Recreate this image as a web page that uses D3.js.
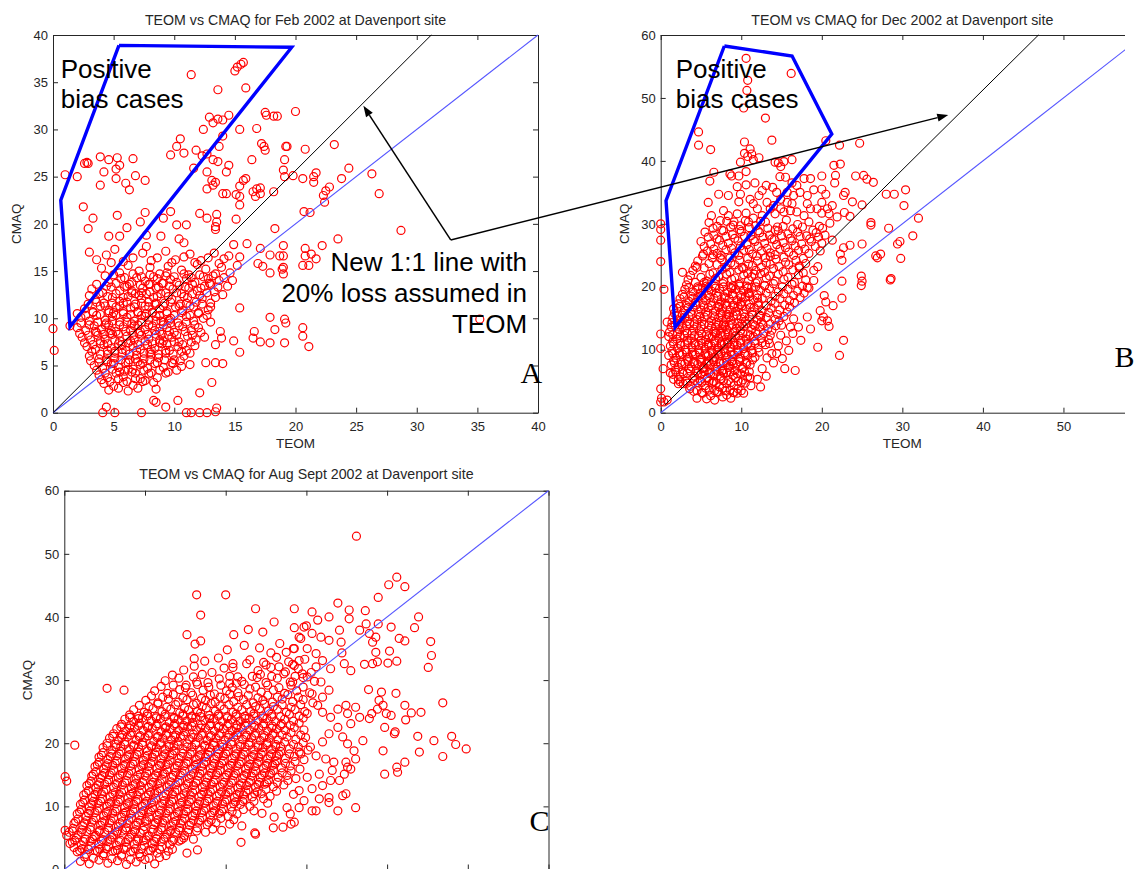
<!DOCTYPE html>
<html>
<head>
<meta charset="utf-8">
<script src="https://cdn.jsdelivr.net/npm/d3@7"></script>
<style>
  body { margin: 0; background: #fff; }
  svg { display: block; }
  text { font-family: "Liberation Sans", Arial, Helvetica, sans-serif; }
</style>
</head>
<body>
<svg id="fig" width="1137" height="869"></svg>
<script>
// ---------------- data (TEOM, CMAQ) ----------------

// Feb 2002: scattered observations
const febSparse = [
[15.0,36.2],[15.2,36.6],[15.5,36.9],[15.7,37.1],[11.4,35.8],[13.6,34.2],[15.9,34.4],
[17.5,31.8],[17.6,31.5],[18.2,31.4],[18.5,31.4],[20.0,31.9],
[12.9,31.3],[13.2,30.7],[13.6,31.1],[14.0,31.0],[14.5,31.5],
[12.4,30.0],[14.0,29.3],[15.4,30.0],[16.8,30.1],
[10.5,29.0],[10.2,28.2],[9.7,27.3],[10.8,27.5],[11.8,27.8],[12.3,27.2],[12.7,27.4],[13.2,26.8],[13.6,26.6],[13.7,28.2],
[14.5,26.2],[14.3,25.5],[12.7,25.5],[11.6,25.9],
[17.2,28.5],[17.4,28.2],[17.5,27.8],[19.3,28.2],[19.1,26.8],[16.4,26.8],
[13.1,24.6],[13.4,24.4],[13.2,24.1],[12.7,23.7],[14.0,23.2],[14.3,23.2],[15.1,23.1],[15.4,22.9],[15.4,24.0],[15.7,24.6],[15.9,24.8],[15.4,22.0],[15.1,20.5],
[16.5,23.4],[16.8,23.7],[17.1,23.8],[16.7,22.9],[17.1,23.2],[18.2,23.4],
[19.0,25.7],[19.1,25.0],
[12.7,20.6],[13.5,21.0],[13.5,20.2],[12.1,21.1],[9.7,21.3],[9.1,20.6],[10.2,19.9],[11.0,19.9],[13.4,19.7],
[3.9,27.1],[4.6,26.8],[5.3,27.0],[5.5,26.2],[5.2,25.8],[6.6,26.9],[2.8,26.5],[2.9,26.4],[2.6,26.4],[4.2,25.5],[3.9,24.1],[5.2,24.8],[6.0,24.3],[6.3,23.6],[6.8,25.1],[7.6,24.6],[1.0,25.2],[2.0,25.0],[2.5,21.8],[3.3,20.6],[5.3,20.9],[7.6,21.2],[7.2,20.2],[6.1,19.6],[2.9,19.5],
[4.6,18.7],[5.5,18.7],[7.7,18.8],[8.9,18.7],[10.4,18.4],[10.8,18.0],[13.4,19.4],
[14.9,17.8],[16.0,17.9],[17.1,17.4],[18.3,19.5],[19.0,17.7],[17.9,16.7],[18.7,16.6],[16.9,15.8],[17.3,15.5],[17.9,14.8],[18.9,15.2],[19.0,14.7],
[15.4,11.1],[17.9,10.1],[19.1,9.9],[19.2,9.5],[18.3,8.8],[16.6,8.6],[16.5,7.9],[17.1,7.5],[17.9,7.4],[19.1,7.4],[14.9,7.6],[15.4,6.4],[13.8,8.6],[13.9,7.9],[13.4,7.2],[13.4,5.3],[14.0,5.2],[12.6,5.3],[13.1,3.2],[12.1,2.1],
[13.5,0.5],[13.4,0.1],[12.7,0.0],[12.1,0.0],[11.4,0.0],[11.0,0.0],[10.3,1.3],[9.3,0.6],[8.3,1.3],[8.5,1.1],[8.5,2.5],[7.3,0.0],[5.1,0.0],[4.4,0.6],[4.1,0.0],[0.0,8.9],[0.1,6.6],[1.4,9.2],
[20.8,17.4],[20.8,16.6],[21.3,16.8],[21.7,16.3],[20.6,15.6],[21.1,15.6],[19.0,16.6],[19.0,15.4],[20.6,9.0],[20.6,8.1],[21.1,7.0],[35.2,9.9],[22.2,17.7],[23.5,18.4],[28.7,19.3],
[19.2,28.2],[20.8,27.9],[23.2,28.4],[24.4,25.9],[26.3,25.3],[26.9,23.2],[19.8,25.1],[20.6,24.8],[21.5,25.0],[21.7,25.4],[21.5,24.4],[23.8,24.8],[22.8,23.9],[22.5,23.5],[22.3,23.0],[22.4,22.3],[20.7,21.3],[21.2,21.2]
];

// Feb 2002: the dense body of observations
const febDense = [
[3.0,17.0],[4.4,16.7],[5.1,17.3],[5.8,16.0],[7.4,16.9],[7.7,17.6],[8.6,16.4],[9.3,17.1],[10.1,16.2],[11.3,16.8],[12.2,16.1],[13.3,16.9],[14.1,16.3],[15.4,16.5],
[4.0,15.3],[5.5,14.8],[6.2,15.6],[7.1,15.0],[8.0,15.4],[8.8,14.7],[9.5,15.5],[10.6,15.1],[11.2,14.6],[11.9,15.7],[12.6,15.2],[13.2,14.5],[13.9,15.4],[14.6,14.8],[15.2,15.6],
[4.6,13.8],[5.6,14.2],[6.3,13.6],[6.9,14.3],[7.6,13.9],[8.3,14.4],[9.0,13.7],[9.7,14.1],[10.4,13.5],[11.0,14.2],[11.7,13.8],[12.4,14.4],[13.0,13.6],[13.7,14.0],[14.4,13.4],
[3.2,13.1],[4.1,12.7],[4.8,13.3],[5.5,12.9],[6.1,13.4],[6.8,12.6],[7.4,13.2],[8.0,12.8],[8.7,13.3],[9.3,12.7],[9.9,13.1],[10.6,12.6],[11.2,13.2],[11.9,12.9],[12.5,13.4],[13.3,12.8],[14.0,12.5],
[3.5,12.0],[4.2,11.6],[4.9,12.2],[5.5,11.8],[6.2,12.3],[6.8,11.5],[7.3,12.1],[7.9,11.7],[8.6,12.3],[9.2,11.6],[9.8,12.0],[10.5,11.5],[11.1,12.2],[11.8,11.7],[12.3,12.1],[13.0,11.6],
[2.6,11.0],[3.3,10.6],[3.9,11.3],[4.6,10.8],[5.2,11.2],[5.8,10.5],[6.4,11.1],[7.0,10.7],[7.6,11.3],[8.2,10.6],[8.8,11.0],[9.4,10.5],[10.1,11.2],[10.7,10.8],[11.3,11.3],[12.0,10.6],[12.8,10.9],
[2.3,10.1],[3.0,9.7],[3.6,10.3],[4.3,9.8],[4.9,10.2],[5.5,9.6],[6.1,10.1],[6.7,9.7],[7.3,10.3],[7.9,9.8],[8.5,10.2],[9.1,9.6],[9.7,10.0],[10.3,9.5],[11.0,10.2],[11.6,9.7],[12.4,10.0],[13.0,9.6],
[2.0,9.0],[2.7,8.7],[3.4,9.2],[4.0,8.8],[4.6,9.3],[5.2,8.6],[5.8,9.1],[6.4,8.7],[7.0,9.3],[7.6,8.8],[8.2,9.2],[8.8,8.6],[9.4,9.0],[10.0,8.5],[10.7,9.1],[11.4,8.7],[12.0,9.0],
[2.4,8.0],[3.1,7.7],[3.7,8.2],[4.3,7.8],[4.9,8.3],[5.5,7.6],[6.1,8.1],[6.7,7.7],[7.3,8.2],[7.9,7.8],[8.5,8.3],[9.1,7.6],[9.8,8.0],[10.4,7.5],[11.1,8.1],[11.8,7.7],[12.5,8.0],
[2.8,7.0],[3.5,6.7],[4.2,7.2],[4.8,6.8],[5.4,7.3],[6.0,6.6],[6.6,7.1],[7.2,6.7],[7.8,7.2],[8.4,6.8],[9.0,7.3],[9.6,6.6],[10.3,7.0],[11.0,6.6],[11.7,7.1],
[3.0,6.0],[3.8,5.7],[4.5,6.2],[5.1,5.8],[5.7,6.3],[6.3,5.6],[6.9,6.1],[7.5,5.7],[8.1,6.2],[8.7,5.8],[9.3,6.3],[10.0,5.6],[10.8,6.0],
[3.4,5.0],[4.1,4.7],[4.8,5.2],[5.4,4.8],[6.0,5.3],[6.6,4.6],[7.2,5.1],[7.8,4.7],[8.4,5.2],[9.1,4.8],[9.8,5.3],[10.6,4.9],[11.3,5.1],
[3.8,4.0],[4.5,3.7],[5.2,4.2],[5.8,3.8],[6.5,4.3],[7.2,3.6],[7.9,4.1],[8.6,3.7],[9.3,4.2],
[4.2,3.1],[5.0,2.8],[5.8,3.2],[6.6,2.9],[7.4,3.3],
[3.6,8.5],[4.4,9.5],[5.0,10.6],[5.8,11.6],[6.5,9.4],[7.1,8.4],[7.7,10.5],[8.4,11.5],[8.9,9.7],[9.5,8.2],[6.2,7.4],[5.1,6.5],[4.5,5.4],[5.9,4.4],[7.0,5.4],[8.0,6.4],[8.8,7.4],[9.6,9.8],[3.9,7.3],[4.7,8.4],[7.3,12.7],[6.5,12.9],[8.0,13.6],[9.3,14.5]
];

// Feb 2002: further observations packed inside the dense body
const febDenseFill = [
[3.6,16.2],[4.8,15.9],[6.6,16.4],[8.1,16.1],[9.8,15.9],[10.8,16.5],[11.7,15.9],[12.8,16.4],[13.7,15.8],[14.5,16.6],
[4.3,14.5],[5.0,14.6],[5.9,14.3],[6.6,14.7],[7.3,14.4],[8.0,14.6],[8.6,14.2],[9.4,14.8],[10.0,14.4],[10.8,14.7],[11.4,14.3],[12.1,14.6],[12.8,14.2],[13.4,14.7],[14.1,14.3],[14.8,14.0],
[3.6,13.6],[4.4,13.4],[5.2,13.7],[5.9,13.3],[6.5,13.8],[7.2,13.5],[7.9,13.6],[8.5,13.2],[9.1,13.7],[9.6,13.4],[10.2,13.8],[10.9,13.3],[11.5,13.6],[12.2,13.2],[12.9,13.7],[13.6,13.3],
[3.0,12.4],[3.8,12.6],[4.5,12.3],[5.2,12.6],[5.8,12.2],[6.5,12.7],[7.1,12.4],[7.7,12.6],[8.3,12.2],[8.9,12.6],[9.5,12.3],[10.2,12.7],[10.8,12.3],[11.5,12.6],[12.1,12.4],[12.7,12.7],[13.4,12.2],
[2.9,11.5],[3.6,11.7],[4.3,11.3],[4.9,11.6],[5.5,11.3],[6.1,11.7],[6.7,11.2],[7.3,11.6],[7.9,11.2],[8.5,11.6],[9.1,11.3],[9.7,11.7],[10.4,11.3],[11.0,11.6],[11.6,11.2],[12.3,11.5],[13.0,11.2],
[2.0,10.5],[2.7,10.3],[3.3,10.7],[3.9,10.4],[4.6,10.6],[5.2,10.3],[5.8,10.7],[6.4,10.4],[7.0,10.6],[7.6,10.2],[8.2,10.6],[8.8,10.3],[9.4,10.7],[10.0,10.3],[10.6,10.6],[11.3,10.3],[12.0,10.5],[12.7,10.3],
[2.3,9.5],[3.0,9.3],[3.7,9.6],[4.3,9.3],[4.9,9.7],[5.5,9.3],[6.1,9.6],[6.7,9.2],[7.3,9.6],[7.9,9.3],[8.5,9.7],[9.1,9.3],[9.7,9.5],[10.4,9.2],[11.0,9.6],[11.7,9.3],
[2.2,8.4],[2.9,8.2],[3.5,8.6],[4.2,8.3],[4.8,8.7],[5.4,8.3],[6.0,8.6],[6.6,8.2],[7.2,8.6],[7.8,8.3],[8.4,8.7],[9.0,8.3],[9.6,8.6],[10.2,8.2],[10.9,8.6],[11.5,8.2],[12.2,8.5],
[2.6,7.4],[3.3,7.2],[3.9,7.6],[4.5,7.3],[5.1,7.7],[5.7,7.2],[6.4,7.6],[7.0,7.2],[7.6,7.6],[8.2,7.3],[8.8,7.7],[9.4,7.2],[10.0,7.5],[10.7,7.2],[11.4,7.5],
[3.2,6.5],[3.9,6.2],[4.5,6.6],[5.1,6.3],[5.7,6.7],[6.3,6.2],[6.9,6.6],[7.5,6.3],[8.1,6.7],[8.7,6.2],[9.3,6.6],[9.9,6.2],[10.6,6.5],[11.3,6.3],
[3.1,5.5],[3.8,5.3],[4.4,5.6],[5.0,5.2],[5.6,5.6],[6.2,5.3],[6.8,5.7],[7.4,5.2],[8.0,5.6],[8.6,5.3],[9.2,5.6],[9.9,5.2],[10.5,5.5],
[3.6,4.5],[4.3,4.2],[4.9,4.6],[5.5,4.3],[6.2,4.6],[6.8,4.2],[7.5,4.5],[8.1,4.2],[8.8,4.5],[9.5,4.3],[10.2,4.5],
[4.0,3.5],[4.7,3.3],[5.4,3.6],[6.1,3.3],[6.8,3.6],[7.6,3.4],[8.3,3.2],
[4.6,2.4],[5.4,2.6],[6.2,2.3],[7.0,2.6]
];

// Dec 2002: scattered observations
const decSparse = [
[10.6,56.3],[16.2,53.9],[10.8,52.8],[10.7,51.2],[10.3,48.4],[13.0,46.8],[4.7,44.6],[4.7,42.5],[6.2,41.8],[10.4,43.0],[11.1,41.9],[11.3,41.1],[10.4,41.2],[13.8,43.3],[16.3,40.2],[14.2,39.8],[14.6,39.7],[14.9,39.1],[15.3,39.9],[20.5,43.2],[22.2,42.5],[24.7,42.8],[9.9,39.8],[10.8,40.7],[11.5,40.2],[12.2,40.5],[6.6,38.2],[6.1,36.8],[8.6,37.9],[8.8,37.6],[9.7,37.6],[10.6,38.3],[10.6,36.2],[11.7,36.5],[7.2,34.7],[8.4,34.5],[9.7,33.5],[9.9,34.7],[9.5,35.9],[14.8,37.5],[15.5,37.4],[16.3,36.5],[16.9,36.1],[17.8,37.2],[18.6,37.2],[20.0,37.6],[21.5,39.3],[21.7,37.7],[22.3,39.5],[21.6,36.5],[24.2,37.6],[25.2,37.7],[25.6,37.1],[26.4,36.6],[28.0,34.7],[26.1,30.2],[25.0,33.0],[23.8,33.5],[22.7,34.5],[22.9,35.0],[20.5,34.7],[20.0,35.5],[19.0,35.4],[18.2,34.5],[17.3,35.0],[20.7,32.4],[21.3,32.9],[20.9,31.6],[20.0,31.7],[19.4,32.4],[20.0,33.4],[21.9,31.1],[22.8,31.8],[23.5,31.2],[18.2,33.2],[18.6,32.4],[17.8,31.3],[16.9,31.9],
[13.2,33.4],[14.0,32.9],[14.9,33.9],[15.7,33.4],[16.1,32.1],[15.3,31.9],[14.2,31.6],[13.6,32.4],[12.6,31.3],[15.7,35.0],[16.5,34.5],[16.3,33.2],[14.9,32.4],[11.1,33.9],[11.5,33.2],[12.0,32.4],[10.6,31.7],[12.2,34.5],[12.6,35.3],[13.1,36.1],[13.9,35.8],[14.4,35.0],[7.4,30.5],[8.4,31.3],[9.5,31.6],[9.1,30.3],[9.9,29.7],[10.9,30.3],[11.5,30.9],[12.4,30.4],[0.0,30.0],[5.9,33.4],[6.3,31.3],[7.8,32.1],
[29.0,34.7],[30.4,35.4],[30.2,32.9],[32.0,30.9],[28.3,29.3],[29.7,27.2],[31.3,28.1],[29.8,24.5],[28.6,21.3],[27.3,25.2],
[0.0,27.4],[0.0,24.0],[0.0,29.1],[0.4,19.6],[0.0,12.5],[0.0,10.2],[0.3,7.0],[0.0,3.8],[0.1,2.3],[0.0,1.7],[0.4,1.7],[0.8,2.0],[0.8,14.4],[1.6,16.5],[2.7,22.3],[4.5,23.1],[5.3,25.2],[6.5,25.1],[7.4,24.6],[5.4,20.7],[5.7,20.9],[5.9,19.9],
[25.0,26.8],[26.1,29.8],[29.4,26.8],[26.7,24.9],[26.9,24.6],[28.5,21.1],[24.9,21.7],[25.0,20.9],[24.9,20.2],[22.7,26.2],[23.5,26.6],[22.3,25.2],[22.5,24.2],[22.5,20.9],[22.5,18.2],[21.4,17.0],[20.3,18.6],[20.5,17.6],[19.8,16.2],[20.2,15.2],[20.0,14.6],[20.7,14.6],[20.9,13.7],[22.7,11.5],[22.2,9.1],[19.5,10.4],[18.2,15.2],[17.1,13.6],[18.6,13.3],[16.7,6.7],[15.4,7.0],[15.1,8.6],[14.4,9.4],[13.8,9.4],[12.4,4.1],[10.3,3.1],[9.5,3.1],[4.5,2.3],[1.6,5.3],[2.2,4.6],[1.2,6.3]
];

// Dec 2002: the dense body of observations
const decDense = [
[6.0,30.2],[7.0,29.6],[8.2,30.4],[9.0,29.8],[10.5,30.5],[11.8,29.7],[13.0,30.3],[14.5,29.5],[15.6,30.6],[17.0,29.9],[18.4,30.3],[19.7,29.6],[21.0,30.1],
[5.5,28.7],[6.6,28.2],[7.8,28.9],[8.9,28.3],[10.0,28.8],[11.2,28.1],[12.3,28.6],[13.5,28.2],[14.6,28.9],[15.8,28.4],[17.0,28.7],[18.1,28.1],[19.3,28.6],[20.4,28.2],
[5.0,27.2],[6.2,26.8],[7.3,27.4],[8.4,26.9],[9.6,27.3],[10.7,26.7],[11.7,27.2],[12.9,26.9],[14.1,27.5],[15.2,27.0],[16.3,27.3],[17.5,26.8],[18.7,27.2],[20.0,26.9],[21.3,27.4],
[5.8,25.7],[7.0,25.3],[8.1,25.9],[9.2,25.4],[10.3,25.8],[11.4,25.2],[12.5,25.7],[13.6,25.4],[14.8,26.0],[15.9,25.5],[17.1,25.8],[18.4,25.3],[19.8,25.7],
[4.6,24.1],[6.0,23.7],[7.6,24.3],[8.7,23.8],[9.8,24.2],[10.9,23.6],[12.0,24.1],[13.1,23.8],[14.3,24.4],[15.5,23.9],[16.8,24.2],[18.0,23.7],
[4.0,22.6],[6.5,22.2],[7.6,22.8],[8.6,22.3],[9.7,22.7],[10.8,22.1],[11.8,22.6],[12.9,22.3],[14.0,22.9],[15.2,22.4],[16.4,22.7],[17.7,22.2],[19.0,22.6],
[3.4,21.1],[4.3,20.7],[6.8,21.3],[7.8,20.8],[8.8,21.2],[9.8,20.6],[10.9,21.1],[12.0,20.8],[13.1,21.4],[14.2,20.9],[15.3,21.2],[16.6,20.7],[18.0,21.1],
[3.0,19.6],[4.0,19.2],[5.2,19.8],[6.3,19.3],[7.3,19.7],[8.3,19.1],[9.3,19.6],[10.3,19.3],[11.3,19.9],[12.4,19.4],[13.5,19.7],[14.6,19.2],[15.8,19.6],[17.0,19.3],[18.4,19.8],
[2.4,18.1],[3.5,17.7],[4.6,18.3],[5.6,17.8],[6.6,18.2],[7.5,17.6],[8.5,18.1],[9.5,17.8],[10.5,18.4],[11.5,17.9],[12.6,18.2],[13.7,17.7],[14.8,18.1],[16.0,17.8],[17.3,18.3],
[2.0,16.6],[3.0,16.2],[4.0,16.8],[5.0,16.3],[5.9,16.7],[6.8,16.1],[7.7,16.6],[8.6,16.3],[9.6,16.9],[10.6,16.4],[11.6,16.7],[12.6,16.2],[13.7,16.6],[14.8,16.3],[16.0,16.8],
[1.5,15.1],[2.5,14.7],[3.5,15.3],[4.5,14.8],[5.4,15.2],[6.3,14.6],[7.2,15.1],[8.1,14.8],[9.0,15.4],[10.0,14.9],[11.0,15.2],[12.0,14.7],[13.1,15.1],[14.2,14.8],[15.3,15.3],[16.5,14.9],
[1.3,13.6],[2.3,13.2],[3.2,13.8],[4.1,13.3],[5.0,13.7],[5.9,13.1],[6.8,13.6],[7.6,13.3],[8.5,13.9],[9.4,13.4],[10.3,13.7],[11.3,13.2],[12.3,13.6],[13.3,13.3],[14.3,13.8],
[1.0,12.1],[2.0,11.7],[2.9,12.3],[3.8,11.8],[4.7,12.2],[5.6,11.6],[6.4,12.1],[7.2,11.8],[8.0,12.4],[8.8,11.9],[9.7,12.2],[10.6,11.7],[11.5,12.1],[12.5,11.8],[13.6,12.3],
[1.2,10.6],[2.1,10.2],[3.0,10.8],[3.9,10.3],[4.7,10.7],[5.5,10.1],[6.3,10.6],[7.1,10.3],[7.9,10.9],[8.7,10.4],[9.5,10.7],[10.3,10.2],[11.2,10.6],[12.1,10.3],[13.0,10.8],
[1.0,9.1],[1.9,8.7],[2.7,9.3],[3.5,8.8],[4.3,9.2],[5.1,8.6],[5.9,9.1],[6.7,8.8],[7.5,9.4],[8.3,8.9],[9.1,9.2],[9.9,8.7],[10.8,9.1],[11.7,8.8],
[1.3,7.6],[2.2,7.2],[3.0,7.8],[3.8,7.3],[4.6,7.7],[5.4,7.1],[6.2,7.6],[7.0,7.3],[7.8,7.9],[8.6,7.4],[9.4,7.7],[10.2,7.2],[11.1,7.6],
[1.5,6.1],[2.4,5.7],[3.3,6.3],[4.2,5.8],[5.0,6.2],[5.8,5.6],[6.6,6.1],[7.4,5.8],[8.2,6.4],[9.0,5.9],[9.9,6.2],[10.8,5.7],
[2.8,4.6],[3.7,4.2],[4.6,4.8],[5.5,4.3],[6.4,4.7],[7.3,4.1],[8.2,4.6],[9.1,4.3],[10.0,4.8],
[5.2,3.1],[6.2,2.7],[7.2,3.3],[8.2,2.8],[9.1,3.2],
[6.5,5.0],[7.7,6.8],[8.8,8.1],[9.6,9.8],[7.0,9.9],[6.0,8.2],[5.3,7.2],[8.4,11.2],[9.2,12.9],[7.8,13.9],[10.1,14.1],[6.9,12.7],[8.2,15.6],[9.9,17.2],[11.0,18.9],[7.3,17.2],[12.9,20.2],[11.6,22.0],[13.6,24.8],[10.1,23.1],[9.0,20.2],
[13.5,11.0],[14.6,10.6],[15.6,11.4],[14.9,12.3],[16.4,12.6],[13.2,8.7],[14.0,7.9],[12.6,7.0],[13.1,5.8],[12.0,5.3],[11.2,4.3],[15.9,9.9],[17.4,11.5],[16.1,13.6],[15.0,13.9],
[18.2,19.9],[19.0,21.0],[19.5,23.2],[17.2,23.3]
];

// Dec 2002: further observations packed inside the dense body
const decDenseFill = [
[6.5,29.3],[7.6,29.0],[8.7,29.5],[9.8,29.1],[11.0,29.4],[12.1,28.9],[13.3,29.3],[14.2,29.0],[15.2,29.6],[16.4,29.2],[17.6,29.5],[18.9,29.0],[20.1,29.3],
[5.9,27.9],[7.0,27.6],[8.1,28.0],[9.2,27.7],[10.4,28.0],[11.5,27.5],[12.7,27.9],[13.8,27.6],[15.0,28.1],[16.1,27.7],[17.3,28.0],[18.5,27.6],[19.6,27.9],
[5.4,26.4],[6.6,26.0],[7.7,26.6],[8.8,26.1],[9.9,26.5],[11.0,25.9],[12.1,26.4],[13.2,26.1],[14.4,26.7],[15.5,26.2],[16.7,26.5],[17.9,26.0],[19.2,26.4],
[5.2,24.9],[6.4,24.6],[7.5,25.0],[8.6,24.6],[9.7,25.0],[10.8,24.5],[11.9,24.9],[13.0,24.6],[14.2,25.1],[15.3,24.7],[16.5,25.0],[17.7,24.5],
[4.3,23.3],[5.4,23.0],[7.0,23.5],[8.1,23.1],[9.2,23.5],[10.3,22.9],[11.4,23.4],[12.5,23.1],[13.6,23.6],[14.7,23.2],[15.9,23.5],[17.2,23.0],
[3.7,21.8],[5.0,21.5],[6.1,22.0],[7.2,21.6],[8.2,22.0],[9.2,21.4],[10.3,21.9],[11.3,21.6],[12.4,22.1],[13.5,21.7],[14.6,22.0],[15.8,21.5],[17.1,21.9],
[3.2,20.3],[4.6,20.0],[5.7,20.5],[6.7,20.1],[7.7,20.5],[8.7,19.9],[9.7,20.4],[10.7,20.1],[11.8,20.6],[12.9,20.2],[14.0,20.5],[15.1,20.0],[16.3,20.4],[17.6,20.1],
[2.7,18.8],[3.8,18.5],[4.9,19.0],[5.9,18.6],[6.9,19.0],[7.9,18.4],[8.9,18.9],[9.9,18.6],[10.9,19.1],[12.0,18.7],[13.1,19.0],[14.2,18.5],[15.3,18.9],[16.5,18.6],[17.8,19.0],
[2.2,17.3],[3.2,17.0],[4.3,17.5],[5.3,17.1],[6.2,17.5],[7.1,16.9],[8.0,17.4],[9.0,17.1],[10.0,17.6],[11.0,17.2],[12.1,17.5],[13.1,17.0],[14.2,17.4],[15.4,17.1],[16.6,17.5],
[1.7,15.8],[2.7,15.5],[3.7,16.0],[4.7,15.6],[5.6,16.0],[6.5,15.4],[7.4,15.9],[8.4,15.6],[9.3,16.1],[10.3,15.7],[11.3,16.0],[12.3,15.5],[13.4,15.9],[14.5,15.6],[15.7,16.0],
[1.4,14.3],[2.3,14.0],[3.3,14.5],[4.2,14.1],[5.1,14.5],[6.0,13.9],[6.9,14.4],[7.8,14.1],[8.7,14.7],[9.6,14.2],[10.5,14.5],[11.5,14.0],[12.5,14.4],[13.6,14.1],[14.7,14.6],
[1.1,12.8],[2.1,12.5],[3.0,13.0],[3.9,12.6],[4.8,13.0],[5.7,12.4],[6.6,12.9],[7.4,12.6],[8.2,13.2],[9.0,12.7],[9.9,13.0],[10.8,12.5],[11.8,12.9],[12.8,12.6],[13.8,13.1],
[1.5,11.3],[2.4,11.0],[3.3,11.5],[4.2,11.1],[5.0,11.5],[5.9,10.9],[6.7,11.4],[7.5,11.1],[8.3,11.6],[9.1,11.2],[9.9,11.5],[10.8,11.0],[11.7,11.4],[12.6,11.1],[13.4,11.6],
[1.4,9.8],[2.3,9.5],[3.1,10.0],[3.9,9.6],[4.7,10.0],[5.5,9.4],[6.3,9.9],[7.1,9.6],[7.9,10.2],[8.7,9.7],[9.5,10.0],[10.4,9.5],[11.3,9.9],[12.2,9.6],
[1.6,8.3],[2.5,8.0],[3.3,8.5],[4.1,8.1],[4.9,8.5],[5.7,7.9],[6.5,8.4],[7.3,8.1],[8.1,8.7],[8.9,8.2],[9.7,8.5],[10.6,8.0],[11.4,8.4],
[1.8,6.8],[2.7,6.5],[3.5,7.0],[4.4,6.6],[5.2,7.0],[6.0,6.4],[6.8,6.9],[7.6,6.6],[8.4,7.2],[9.2,6.7],[10.1,7.0],[11.0,6.5],
[2.2,5.3],[3.1,5.0],[4.0,5.5],[4.9,5.1],[5.8,5.5],[6.6,4.9],[7.5,5.4],[8.4,5.1],[9.3,5.6],[10.2,5.2],[11.1,5.5],
[3.6,3.8],[4.5,3.5],[5.6,3.9],[6.7,3.5],[7.7,3.9],[8.6,3.6],[9.6,3.8],
[5.7,2.2],[6.7,2.0],[7.7,2.5],[8.7,2.3]
];

// Dec 2002: the most crowded low-concentration core
const decCore = [
[4.1,3.4],[5.1,3.2],[6.0,3.6],[7.0,3.3],[8.0,3.5],[9.0,3.2],[10.0,3.5],
[2.4,4.9],[3.3,4.7],[4.2,5.1],[5.1,4.8],[6.0,5.0],[6.9,4.7],[7.8,5.1],[8.7,4.8],[9.6,5.0],[10.5,4.7],
[1.9,6.4],[2.8,6.2],[3.7,6.6],[4.6,6.3],[5.4,6.5],[6.2,6.2],[7.0,6.6],[7.8,6.3],[8.6,6.5],[9.5,6.2],[10.4,6.5],
[1.7,7.9],[2.6,7.7],[3.4,8.1],[4.2,7.8],[5.0,8.0],[5.8,7.7],[6.6,8.1],[7.4,7.8],[8.2,8.0],[9.0,7.7],[9.8,8.1],[10.7,7.8],
[1.5,9.4],[2.4,9.2],[3.2,9.6],[4.0,9.3],[4.8,9.5],[5.6,9.2],[6.4,9.6],[7.2,9.3],[8.0,9.5],[8.8,9.2],[9.6,9.6],[10.5,9.3],[11.4,9.5],
[1.6,10.9],[2.5,10.7],[3.4,11.1],[4.3,10.8],[5.1,11.0],[5.9,10.7],[6.7,11.1],[7.5,10.8],[8.3,11.0],[9.1,10.7],[9.9,11.1],[10.8,10.8],[11.7,11.0],
[1.5,12.4],[2.4,12.2],[3.3,12.6],[4.2,12.3],[5.1,12.5],[6.0,12.2],[6.8,12.6],[7.6,12.3],[8.4,12.5],[9.3,12.2],[10.2,12.6],[11.1,12.3],[12.0,12.5],
[1.8,13.9],[2.7,13.7],[3.6,14.1],[4.5,13.8],[5.4,14.0],[6.3,13.7],[7.2,14.1],[8.0,13.8],[8.9,14.0],[9.8,13.7],[10.7,14.1],[11.7,13.8],[12.7,14.0],
[2.0,15.4],[3.0,15.2],[3.9,15.6],[4.9,15.3],[5.8,15.5],[6.7,15.2],[7.6,15.6],[8.5,15.3],[9.5,15.5],[10.4,15.2],[11.4,15.6],[12.4,15.3],
[2.4,16.9],[3.4,16.7],[4.4,17.1],[5.4,16.8],[6.3,17.0],[7.2,16.7],[8.2,17.1],[9.1,16.8],[10.1,17.0],[11.1,16.7],[12.1,17.1],
[2.9,18.4],[4.0,18.2],[5.1,18.6],[6.1,18.3],[7.1,18.5],[8.0,18.2],[9.0,18.6],[10.0,18.3],[11.0,18.5],[12.0,18.2],
[3.5,19.9],[4.6,19.7],[5.7,20.1],[6.8,19.8],[7.8,20.0],[8.8,19.7],[9.8,20.1],[10.8,19.8],[11.8,20.0]
];

// Aug-Sept 2002: scattered observations
const augSparse = [
[16.4,43.5],[20.0,43.5],[16.9,40.3],[15.2,37.2],[16.2,35.7],[16.9,36.2],[21.0,37.2],[23.7,41.3],[24.6,37.6],[24.2,35.1],[25.6,34.3],[28.5,41.3],[28.5,38.3],[28.4,35.0],
[5.3,28.7],[7.4,28.4],[1.3,19.7],[0.1,14.7],[0.3,14.0],[16.1,33.4],[15.1,29.2],[16.4,29.7],[20.9,32.6],[22.6,32.6],[21.5,30.5],[20.5,29.5],[21.3,29.5],[23.9,30.4],[21.9,4.3],[23.6,5.8],[23.7,5.6],[25.9,6.6],[27.1,6.7],[28.1,7.2],[28.5,7.5],[0.1,6.2],[0.3,5.4],[0.7,4.1],
[36.2,52.8],[41.2,46.3],[40.2,45.1],[42.2,44.8],[38.9,43.1],[33.9,42.2],[35.3,41.1],[35.3,39.7],[37.3,41.0],[43.9,40.0],[43.4,38.3],[40.5,38.4],[41.5,36.6],[42.2,36.2],[45.4,36.1],[45.5,33.9],[45.1,32.0],[40.3,34.6],[41.2,33.0],[40.1,32.7],
[38.9,38.9],[38.6,36.8],[37.4,38.9],[36.6,37.9],[37.8,37.4],[38.2,36.0],[38.6,34.4],[38.8,32.9],[38.2,32.6],[37.2,32.5],[35.5,31.5],[34.7,32.6],[34.4,34.3],[34.3,36.0],[34.1,37.9],[32.8,36.3],[33.0,31.8],
[37.7,28.5],[39.3,28.1],[39.0,26.8],[39.5,26.0],[38.8,25.4],[39.9,24.7],[40.5,24.4],[39.7,22.5],[37.8,23.9],[41.1,27.9],[40.9,21.5],[38.1,24.7],[42.2,26.0],[42.3,23.7],[41.0,21.8],[43.8,21.1],[44.0,18.6],[45.8,20.4],[48.0,21.1],[48.5,19.8],[49.8,19.1],[46.9,17.9],[42.2,17.0],[41.2,16.2],[39.7,15.1],[39.5,18.8],[41.3,15.4],[46.9,26.4],[44.2,24.9],[43.0,24.8],
[37.0,20.4],[35.1,19.9],[35.9,18.8],[36.1,17.5],[35.1,16.2],[34.9,12.0],[34.5,11.7],[36.1,9.8],[33.9,9.3],[32.8,10.6],[30.7,9.3],
[28.5,32.3],[29.5,31.0],[28.3,29.7],[30.1,30.5],[31.2,32.1],[31.8,29.7],[30.7,27.8],[32.0,27.3],[32.8,28.4],[31.4,26.0],[30.1,24.7],[32.0,24.9],[33.0,24.1],[33.9,25.4],[34.9,26.0],[35.1,24.7],[36.1,25.7],[36.6,24.1],[35.5,23.1],[33.9,22.5],[32.8,21.5],[34.5,21.0],[32.0,20.2],[30.5,19.4],[29.3,18.3],[31.2,18.0],[32.4,17.5],[33.4,17.0],[34.9,17.0],[35.5,15.9],[33.2,15.7],[31.6,15.1],[30.1,14.6],[29.1,12.5],[30.7,12.8],[32.0,13.3],[33.0,14.1],[34.1,14.1],[34.7,15.1],[29.7,10.9],[31.6,11.2],[32.8,11.4],[31.2,9.3],[29.1,9.8],[28.0,8.8],
[28.5,35.0],[30.1,35.0],[31.2,34.2],[32.0,33.1],[29.1,33.1],[31.8,36.8],[30.7,37.4],[29.1,36.8],[29.7,38.4],[31.4,39.5],[32.8,40.0],[30.7,40.8]
];

// Aug-Sept 2002: the dense body of observations
const augDense = [
[2.0,1.3],[3.1,0.9],[4.3,1.5],[5.4,1.0],[6.6,1.4],[7.7,0.8],[8.9,1.2],[10.0,1.6],[11.2,0.9],
[1.6,2.8],[2.7,2.4],[3.8,3.0],[4.9,2.5],[6.0,2.9],[7.1,2.3],[8.2,2.8],[9.3,2.5],[10.4,3.0],[11.5,2.6],[12.6,2.2],[15.2,2.6],[16.5,3.1],
[1.0,4.3],[2.1,3.9],[3.2,4.5],[4.3,4.0],[5.4,4.4],[6.5,3.8],[7.6,4.3],[8.7,4.0],[9.8,4.6],[10.9,4.1],[12.0,4.4],[13.1,3.9],[14.2,4.5],[16.0,4.8],
[0.6,5.9],[1.7,5.5],[2.8,6.0],[3.9,5.4],[5.0,5.9],[6.1,5.5],[7.2,6.1],[8.3,5.6],[9.4,5.8],[10.5,5.3],[11.6,6.0],[12.7,5.6],[13.8,5.9],[14.9,5.4],[17.5,5.9],[19.5,6.2],
[1.2,7.3],[2.3,6.9],[3.4,7.5],[4.5,7.0],[5.6,7.4],[6.7,6.8],[7.8,7.3],[8.9,7.0],[10.0,7.6],[11.1,7.1],[12.2,7.4],[13.3,6.9],[14.4,7.3],[15.5,7.0],[16.6,7.5],[17.7,7.1],[18.8,7.4],[20.5,7.2],[22.0,6.9],
[1.6,8.8],[2.7,8.4],[3.8,9.0],[4.9,8.5],[6.0,8.9],[7.1,8.3],[8.2,8.8],[9.3,8.5],[10.4,9.1],[11.5,8.6],[12.6,8.9],[13.7,8.4],[14.8,8.8],[15.9,8.5],[17.0,9.0],[18.1,8.6],[19.2,8.9],[20.3,8.4],[21.4,8.8],[24.5,8.9],[26.0,8.3],
[2.0,10.3],[3.1,9.9],[4.2,10.5],[5.3,10.0],[6.4,10.4],[7.5,9.8],[8.6,10.3],[9.7,10.0],[10.8,10.6],[11.9,10.1],[13.0,10.4],[14.1,9.9],[15.2,10.3],[16.3,10.0],[17.4,10.5],[18.5,10.1],[19.6,10.4],[20.7,9.9],[21.8,10.3],[23.0,10.0],[25.2,10.5],[27.6,9.8],
[2.4,11.8],[3.5,11.4],[4.6,12.0],[5.7,11.5],[6.8,11.9],[7.9,11.3],[9.0,11.8],[10.1,11.5],[11.2,12.1],[12.3,11.6],[13.4,11.9],[14.5,11.4],[15.6,11.8],[16.7,11.5],[17.8,12.0],[18.9,11.6],[20.0,11.9],[21.1,11.4],[22.2,11.8],[23.3,11.5],[24.4,12.0],[25.5,11.6],[28.4,11.9],
[2.8,13.3],[3.9,12.9],[5.0,13.5],[6.1,13.0],[7.2,13.4],[8.3,12.8],[9.4,13.3],[10.5,13.0],[11.6,13.6],[12.7,13.1],[13.8,13.4],[14.9,12.9],[16.0,13.3],[17.1,13.0],[18.2,13.5],[19.3,13.1],[20.4,13.4],[21.5,12.9],[22.6,13.3],[23.7,13.0],[24.8,13.5],[25.9,13.1],[27.2,13.4],
[3.4,14.8],[4.5,14.4],[5.6,15.0],[6.7,14.5],[7.8,14.9],[8.9,14.3],[10.0,14.8],[11.1,14.5],[12.2,15.1],[13.3,14.6],[14.4,14.9],[15.5,14.4],[16.6,14.8],[17.7,14.5],[18.8,15.0],[19.9,14.6],[21.0,14.9],[22.1,14.4],[23.2,14.8],[24.3,14.5],[25.4,15.0],[26.5,14.6],[27.6,14.9],[28.7,14.4],
[3.8,16.3],[4.9,15.9],[6.0,16.5],[7.1,16.0],[8.2,16.4],[9.3,15.8],[10.4,16.3],[11.5,16.0],[12.6,16.6],[13.7,16.1],[14.8,16.4],[15.9,15.9],[17.0,16.3],[18.1,16.0],[19.2,16.5],[20.3,16.1],[21.4,16.4],[22.5,15.9],[23.6,16.3],[24.7,16.0],[25.8,16.5],[26.9,16.1],[28.0,16.4],[29.2,15.9],
[4.3,17.8],[5.4,17.4],[6.5,18.0],[7.6,17.5],[8.7,17.9],[9.8,17.3],[10.9,17.8],[12.0,17.5],[13.1,18.1],[14.2,17.6],[15.3,17.9],[16.4,17.4],[17.5,17.8],[18.6,17.5],[19.7,18.0],[20.8,17.6],[21.9,17.9],[23.0,17.4],[24.1,17.8],[25.2,17.5],[26.3,18.0],[27.4,17.6],[28.5,17.9],[29.7,17.4],
[4.8,19.3],[5.9,18.9],[7.0,19.5],[8.1,19.0],[9.2,19.4],[10.3,18.8],[11.4,19.3],[12.5,19.0],[13.6,19.6],[14.7,19.1],[15.8,19.4],[16.9,18.9],[18.0,19.3],[19.1,19.0],[20.2,19.5],[21.3,19.1],[22.4,19.4],[23.5,18.9],[24.6,19.3],[25.7,19.0],[26.8,19.5],[27.9,19.1],[29.0,19.4],[30.2,18.9],
[5.6,20.8],[6.7,20.4],[7.8,21.0],[8.9,20.5],[10.0,20.9],[11.1,20.3],[12.2,20.8],[13.3,20.5],[14.4,21.1],[15.5,20.6],[16.6,20.9],[17.7,20.4],[18.8,20.8],[19.9,20.5],[21.0,21.0],[22.1,20.6],[23.2,20.9],[24.3,20.4],[25.4,20.8],[26.5,20.5],[27.6,21.0],[28.7,20.6],[29.9,20.9],
[6.5,22.3],[7.6,21.9],[8.7,22.5],[9.8,22.0],[10.9,22.4],[12.0,21.8],[13.1,22.3],[14.2,22.0],[15.3,22.6],[16.4,22.1],[17.5,22.4],[18.6,21.9],[19.7,22.3],[20.8,22.0],[21.9,22.5],[23.0,22.1],[24.1,22.4],[25.2,21.9],[26.3,22.3],[27.4,22.0],[28.5,22.5],[29.7,22.1],
[7.5,23.8],[8.6,23.4],[9.7,24.0],[10.8,23.5],[11.9,23.9],[13.0,23.3],[14.1,23.8],[15.2,23.5],[16.3,24.1],[17.4,23.6],[18.5,23.9],[19.6,23.4],[20.7,23.8],[21.8,23.5],[22.9,24.0],[24.0,23.6],[25.1,23.9],[26.2,23.4],[27.3,23.8],[28.4,23.5],[29.6,24.0],
[8.6,25.3],[9.9,24.9],[11.0,25.5],[12.1,25.0],[13.2,25.4],[14.3,24.8],[15.4,25.3],[16.5,25.0],[17.6,25.6],[18.7,25.1],[19.8,25.4],[20.9,24.9],[22.0,25.3],[23.1,25.0],[24.2,25.5],[25.3,25.1],[26.4,25.4],[27.5,24.9],[28.6,25.3],[29.8,25.0],
[10.1,26.8],[11.6,26.4],[12.9,27.0],[14.1,26.5],[15.2,26.9],[16.4,26.3],[17.5,26.8],[18.7,26.5],[19.9,27.1],[21.0,26.6],[22.2,26.9],[23.4,26.4],[24.6,26.8],[25.8,26.5],[27.0,27.0],[28.3,26.6],[29.6,26.9],[30.8,26.4],
[11.2,28.3],[12.8,27.9],[14.3,28.5],[15.7,28.0],[17.2,28.4],[18.6,27.8],[20.1,28.3],[21.5,28.0],[23.0,28.6],[24.4,28.1],[25.9,28.4],[27.3,27.9],[28.8,28.3],[30.4,28.0],
[12.5,29.9],[14.2,30.3],[17.8,29.6],[19.2,30.2],[22.0,29.8],[23.3,30.6],[25.0,29.6],[26.4,30.3],[28.0,29.7],[29.6,30.4],[31.0,29.8],
[14.8,31.6],[18.3,31.2],[19.8,31.9],[24.0,31.5],[25.6,32.0],[27.4,31.3],[29.0,31.8],[30.6,31.2],
[17.4,33.0],[19.1,33.5],[23.0,33.2],[24.7,32.8],[26.3,33.6],[27.8,32.9],[29.8,33.3],
[20.2,34.8],[22.3,35.5],[26.7,35.8],[27.5,34.4],[29.3,36.6],[22.8,38.0],[26.0,39.2],[30.0,38.6]
];

// Aug-Sept 2002: further observations packed inside the dense body
const augDenseFill = [
[2.5,2.0],[3.6,1.8],[4.8,2.2],[5.9,1.7],[7.1,2.1],[8.2,1.6],[9.4,2.0],[10.5,1.8],[11.8,1.9],
[1.2,3.5],[2.2,3.3],[3.3,3.7],[4.4,3.2],[5.5,3.6],[6.6,3.1],[7.7,3.5],[8.8,3.3],[9.9,3.8],[11.0,3.4],[12.1,3.6],[13.4,3.2],
[1.5,5.0],[2.6,4.8],[3.7,5.2],[4.8,4.7],[5.9,5.1],[7.0,4.6],[8.1,5.1],[9.2,4.8],[10.3,5.3],[11.4,4.9],[12.5,5.1],[13.6,4.7],[14.8,5.0],
[1.1,6.5],[2.2,6.3],[3.3,6.7],[4.4,6.2],[5.5,6.6],[6.6,6.1],[7.7,6.6],[8.8,6.3],[9.9,6.8],[11.0,6.4],[12.1,6.6],[13.2,6.2],[14.3,6.6],[15.4,6.3],[16.5,6.6],[18.4,6.4],
[1.7,8.0],[2.8,7.8],[3.9,8.2],[5.0,7.7],[6.1,8.1],[7.2,7.6],[8.3,8.1],[9.4,7.8],[10.5,8.3],[11.6,7.9],[12.7,8.1],[13.8,7.7],[14.9,8.1],[16.0,7.8],[17.1,8.2],[18.2,7.8],[19.4,8.1],[21.0,7.9],
[2.1,9.5],[3.2,9.3],[4.3,9.7],[5.4,9.2],[6.5,9.6],[7.6,9.1],[8.7,9.6],[9.8,9.3],[10.9,9.8],[12.0,9.4],[13.1,9.6],[14.2,9.2],[15.3,9.6],[16.4,9.3],[17.5,9.7],[18.6,9.3],[19.7,9.6],[20.8,9.2],[22.2,9.5],[23.5,9.3],
[2.5,11.0],[3.6,10.8],[4.7,11.2],[5.8,10.7],[6.9,11.1],[8.0,10.6],[9.1,11.1],[10.2,10.8],[11.3,11.3],[12.4,10.9],[13.5,11.1],[14.6,10.7],[15.7,11.1],[16.8,10.8],[17.9,11.2],[19.0,10.8],[20.1,11.1],[21.2,10.7],[22.3,11.1],[23.5,10.8],[24.7,11.2],
[3.0,12.5],[4.1,12.3],[5.2,12.7],[6.3,12.2],[7.4,12.6],[8.5,12.1],[9.6,12.6],[10.7,12.3],[11.8,12.8],[12.9,12.4],[14.0,12.6],[15.1,12.2],[16.2,12.6],[17.3,12.3],[18.4,12.7],[19.5,12.3],[20.6,12.6],[21.7,12.2],[22.8,12.6],[23.9,12.3],[25.0,12.7],[26.3,12.4],
[3.3,14.0],[4.4,13.8],[5.5,14.2],[6.6,13.7],[7.7,14.1],[8.8,13.6],[9.9,14.1],[11.0,13.8],[12.1,14.3],[13.2,13.9],[14.3,14.1],[15.4,13.7],[16.5,14.1],[17.6,13.8],[18.7,14.2],[19.8,13.8],[20.9,14.1],[22.0,13.7],[23.1,14.1],[24.2,13.8],[25.3,14.2],[26.4,13.8],[27.7,14.1],
[3.9,15.5],[5.0,15.3],[6.1,15.7],[7.2,15.2],[8.3,15.6],[9.4,15.1],[10.5,15.6],[11.6,15.3],[12.7,15.8],[13.8,15.4],[14.9,15.6],[16.0,15.2],[17.1,15.6],[18.2,15.3],[19.3,15.7],[20.4,15.3],[21.5,15.6],[22.6,15.2],[23.7,15.6],[24.8,15.3],[25.9,15.7],[27.0,15.3],[28.1,15.6],
[4.3,17.0],[5.4,16.8],[6.5,17.2],[7.6,16.7],[8.7,17.1],[9.8,16.6],[10.9,17.1],[12.0,16.8],[13.1,17.3],[14.2,16.9],[15.3,17.1],[16.4,16.7],[17.5,17.1],[18.6,16.8],[19.7,17.2],[20.8,16.8],[21.9,17.1],[23.0,16.7],[24.1,17.1],[25.2,16.8],[26.3,17.2],[27.4,16.8],[28.6,17.1],
[4.8,18.5],[5.9,18.3],[7.0,18.7],[8.1,18.2],[9.2,18.6],[10.3,18.1],[11.4,18.6],[12.5,18.3],[13.6,18.8],[14.7,18.4],[15.8,18.6],[16.9,18.2],[18.0,18.6],[19.1,18.3],[20.2,18.7],[21.3,18.3],[22.4,18.6],[23.5,18.2],[24.6,18.6],[25.7,18.3],[26.8,18.7],[27.9,18.3],[29.1,18.6],
[5.3,20.0],[6.4,19.8],[7.5,20.2],[8.6,19.7],[9.7,20.1],[10.8,19.6],[11.9,20.1],[13.0,19.8],[14.1,20.3],[15.2,19.9],[16.3,20.1],[17.4,19.7],[18.5,20.1],[19.6,19.8],[20.7,20.2],[21.8,19.8],[22.9,20.1],[24.0,19.7],[25.1,20.1],[26.2,19.8],[27.3,20.2],[28.4,19.8],[29.6,20.1],
[6.1,21.5],[7.2,21.3],[8.3,21.7],[9.4,21.2],[10.5,21.6],[11.6,21.1],[12.7,21.6],[13.8,21.3],[14.9,21.8],[16.0,21.4],[17.1,21.6],[18.2,21.2],[19.3,21.6],[20.4,21.3],[21.5,21.7],[22.6,21.3],[23.7,21.6],[24.8,21.2],[25.9,21.6],[27.0,21.3],[28.1,21.7],[29.3,21.3],
[7.1,23.0],[8.2,22.8],[9.3,23.2],[10.4,22.7],[11.5,23.1],[12.6,22.6],[13.7,23.1],[14.8,22.8],[15.9,23.3],[17.0,22.9],[18.1,23.1],[19.2,22.7],[20.3,23.1],[21.4,22.8],[22.5,23.2],[23.6,22.8],[24.7,23.1],[25.8,22.7],[26.9,23.1],[28.0,22.8],[29.1,23.2],
[8.1,24.5],[9.2,24.3],[10.3,24.7],[11.4,24.2],[12.5,24.6],[13.6,24.1],[14.7,24.6],[15.8,24.3],[16.9,24.8],[18.0,24.4],[19.1,24.6],[20.2,24.2],[21.3,24.6],[22.4,24.3],[23.5,24.7],[24.6,24.3],[25.7,24.6],[26.8,24.2],[27.9,24.6],[29.1,24.3],
[9.3,26.0],[10.5,25.8],[11.6,26.2],[12.7,25.7],[13.8,26.1],[14.9,25.6],[16.0,26.1],[17.1,25.8],[18.2,26.3],[19.3,25.9],[20.4,26.1],[21.5,25.7],[22.6,26.1],[23.7,25.8],[24.8,26.2],[25.9,25.8],[27.0,26.1],[28.1,25.7],[29.3,26.1],
[10.8,27.5],[12.2,27.3],[13.5,27.7],[14.7,27.2],[15.9,27.6],[17.0,27.1],[18.1,27.6],[19.3,27.3],[20.5,27.8],[21.6,27.4],[22.8,27.6],[24.0,27.2],[25.2,27.6],[26.4,27.3],[27.7,27.7],[29.0,27.3],
[12.0,29.0],[13.5,29.2],[15.0,28.8],[16.5,29.3],[17.9,28.9],[19.4,29.2],[20.8,28.8],[22.3,29.3],[23.7,28.9],[25.2,29.2],[26.6,28.8],[28.1,29.2],[29.6,28.9],
[13.4,30.8],[16.0,30.5],[17.1,30.9],[20.5,30.6],[24.3,30.9],[25.7,30.6],[27.2,31.0],[28.6,30.6],
[16.1,32.2],[20.9,32.0],[25.0,32.4],[26.6,32.1],[28.3,32.5]
];

// Aug-Sept 2002: the most crowded part of the body
const augCore = [
[1.9,3.0],[3.0,3.2],[4.1,2.9],[5.2,3.3],[6.3,3.0],[7.4,3.2],[8.5,2.9],[9.6,3.3],[10.7,3.0],[11.8,3.2],[12.9,2.9],
[1.3,4.6],[2.4,4.4],[3.5,4.8],[4.6,4.5],[5.7,4.7],[6.8,4.4],[7.9,4.8],[9.0,4.5],[10.1,4.7],[11.2,4.4],[12.3,4.8],[13.4,4.5],[14.5,4.7],
[1.0,6.1],[2.1,5.9],[3.2,6.3],[4.3,6.0],[5.4,6.2],[6.5,5.9],[7.6,6.3],[8.7,6.0],[9.8,6.2],[10.9,5.9],[12.0,6.3],[13.1,6.0],[14.2,6.2],[15.3,5.9],[16.4,6.1],
[1.4,7.6],[2.5,7.4],[3.6,7.8],[4.7,7.5],[5.8,7.7],[6.9,7.4],[8.0,7.8],[9.1,7.5],[10.2,7.7],[11.3,7.4],[12.4,7.8],[13.5,7.5],[14.6,7.7],[15.7,7.4],[16.8,7.8],[17.9,7.5],
[1.9,9.1],[3.0,8.9],[4.1,9.3],[5.2,9.0],[6.3,9.2],[7.4,8.9],[8.5,9.3],[9.6,9.0],[10.7,9.2],[11.8,8.9],[12.9,9.3],[14.0,9.0],[15.1,9.2],[16.2,8.9],[17.3,9.3],[18.4,9.0],[19.5,9.2],
[2.3,10.6],[3.4,10.4],[4.5,10.8],[5.6,10.5],[6.7,10.7],[7.8,10.4],[8.9,10.8],[10.0,10.5],[11.1,10.7],[12.2,10.4],[13.3,10.8],[14.4,10.5],[15.5,10.7],[16.6,10.4],[17.7,10.8],[18.8,10.5],[19.9,10.7],[21.0,10.4],[22.1,10.8],
[2.7,12.1],[3.8,11.9],[4.9,12.3],[6.0,12.0],[7.1,12.2],[8.2,11.9],[9.3,12.3],[10.4,12.0],[11.5,12.2],[12.6,11.9],[13.7,12.3],[14.8,12.0],[15.9,12.2],[17.0,11.9],[18.1,12.3],[19.2,12.0],[20.3,12.2],[21.4,11.9],[22.5,12.3],[23.6,12.0],
[3.1,13.6],[4.2,13.4],[5.3,13.8],[6.4,13.5],[7.5,13.7],[8.6,13.4],[9.7,13.8],[10.8,13.5],[11.9,13.7],[13.0,13.4],[14.1,13.8],[15.2,13.5],[16.3,13.7],[17.4,13.4],[18.5,13.8],[19.6,13.5],[20.7,13.7],[21.8,13.4],[22.9,13.8],[24.0,13.5],[25.1,13.7],
[3.6,15.1],[4.7,14.9],[5.8,15.3],[6.9,15.0],[8.0,15.2],[9.1,14.9],[10.2,15.3],[11.3,15.0],[12.4,15.2],[13.5,14.9],[14.6,15.3],[15.7,15.0],[16.8,15.2],[17.9,14.9],[19.0,15.3],[20.1,15.0],[21.2,15.2],[22.3,14.9],[23.4,15.3],[24.5,15.0],[25.6,15.2],
[4.1,16.6],[5.2,16.4],[6.3,16.8],[7.4,16.5],[8.5,16.7],[9.6,16.4],[10.7,16.8],[11.8,16.5],[12.9,16.7],[14.0,16.4],[15.1,16.8],[16.2,16.5],[17.3,16.7],[18.4,16.4],[19.5,16.8],[20.6,16.5],[21.7,16.7],[22.8,16.4],[23.9,16.8],[25.0,16.5],[26.1,16.7],
[4.6,18.1],[5.7,17.9],[6.8,18.3],[7.9,18.0],[9.0,18.2],[10.1,17.9],[11.2,18.3],[12.3,18.0],[13.4,18.2],[14.5,17.9],[15.6,18.3],[16.7,18.0],[17.8,18.2],[18.9,17.9],[20.0,18.3],[21.1,18.0],[22.2,18.2],[23.3,17.9],[24.4,18.3],[25.5,18.0],[26.6,18.2],
[5.3,19.6],[6.4,19.4],[7.5,19.8],[8.6,19.5],[9.7,19.7],[10.8,19.4],[11.9,19.8],[13.0,19.5],[14.1,19.7],[15.2,19.4],[16.3,19.8],[17.4,19.5],[18.5,19.7],[19.6,19.4],[20.7,19.8],[21.8,19.5],[22.9,19.7],[24.0,19.4],[25.1,19.8],[26.2,19.5],
[6.0,21.1],[7.1,20.9],[8.2,21.3],[9.3,21.0],[10.4,21.2],[11.5,20.9],[12.6,21.3],[13.7,21.0],[14.8,21.2],[15.9,20.9],[17.0,21.3],[18.1,21.0],[19.2,21.2],[20.3,20.9],[21.4,21.3],[22.5,21.0],[23.6,21.2],[24.7,20.9],[25.8,21.3],
[7.0,22.6],[8.1,22.4],[9.2,22.8],[10.3,22.5],[11.4,22.7],[12.5,22.4],[13.6,22.8],[14.7,22.5],[15.8,22.7],[16.9,22.4],[18.0,22.8],[19.1,22.5],[20.2,22.7],[21.3,22.4],[22.4,22.8],[23.5,22.5],[24.6,22.7],[25.7,22.4],[26.8,22.8],
[8.1,24.1],[9.2,23.9],[10.3,24.3],[11.4,24.0],[12.5,24.2],[13.6,23.9],[14.7,24.3],[15.8,24.0],[16.9,24.2],[18.0,23.9],[19.1,24.3],[20.2,24.0],[21.3,24.2],[22.4,23.9],[23.5,24.3],[24.6,24.0],[25.7,24.2]
];

// Tick values per panel
const febTicks = [0, 5, 10, 15, 20, 25, 30, 35, 40];
const decTicks = [0, 10, 20, 30, 40, 50, 60];
const augTicks = [0, 10, 20, 30, 40, 50, 60];

// Reference lines: the 20% TEOM loss line (the 1:1 line spans each axis)
const febLossLine = [[0, 0], [31.2, 40]];
const decLossLine = [[0.5, 1.2], [46.9, 60]];

// Hand-drawn outlines around the positive bias cases
const febBiasOutline = [[5.44, 38.9], [19.69, 38.7], [1.40, 9.09], [0.64, 22.5]];
const decBiasOutline = [[7.90, 58.25], [16.31, 56.66], [21.24, 44.27], [1.78, 13.57], [0.66, 33.68]];

// Callout arrows: shared origin in Feb axes, one tip in each upper panel
const calloutOrigin = [32.8, 18.3];
const febArrowTip = [25.6, 32.5];
const decArrowTip = [35.7, 47.3];

// ---------------- layout ----------------
const svg = d3.select("#fig");
const textColor = "#262626";
const figHeight = 869;

const panels = [
  { key: "feb", title: "TEOM vs CMAQ for Feb 2002 at Davenport site",
    points: febSparse.concat(febDense, febDenseFill), ticks: febTicks, max: 40,
    box: { l: 53, r: 538, t: 35, b: 412.7 }, titleY: 24.5,
    lossLine: febLossLine, outline: febBiasOutline, clipRight: null },
  { key: "dec", title: "TEOM vs CMAQ for Dec 2002 at Davenport site",
    points: decSparse.concat(decDense, decDenseFill, decCore), ticks: decTicks, max: 60,
    box: { l: 660.7, r: 1144, t: 35, b: 412.7 }, titleY: 24.5,
    lossLine: decLossLine, outline: decBiasOutline, clipRight: 1125 },
  { key: "aug", title: "TEOM vs CMAQ for Aug Sept 2002 at Davenport site",
    points: augSparse.concat(augDense, augDenseFill, augCore), ticks: augTicks, max: 60,
    box: { l: 64.3, r: 548.5, t: 490.7, b: 869.5 }, titleY: 479,
    lossLine: null, outline: null, clipRight: null }
];

const scales = {};

function styleAxis(g) {
  g.select(".domain").attr("stroke", textColor).attr("stroke-width", 1);
  g.selectAll(".tick line").attr("stroke", textColor).attr("stroke-width", 1);
  g.selectAll(".tick text")
    .attr("fill", textColor)
    .style("font-family", '"Liberation Sans", Arial, sans-serif')
    .style("font-size", "13px");
}

panels.forEach(p => {
  const x = d3.scaleLinear().domain([0, p.max]).range([p.box.l, p.box.r]);
  const y = d3.scaleLinear().domain([0, p.max]).range([p.box.b, p.box.t]);
  scales[p.key] = { x, y };

  const g = svg.append("g").attr("class", "panel-" + p.key);
  let body = g;
  const rightEdge = p.clipRight || 1137;
  if (p.clipRight) {
    svg.append("defs").append("clipPath").attr("id", "clip-" + p.key)
      .append("rect").attr("x", 0).attr("y", 0)
      .attr("width", p.clipRight).attr("height", figHeight);
    body = g.append("g").attr("clip-path", "url(#clip-" + p.key + ")");
  }

  // only label ticks whose labels fall inside the figure
  const labelBottom = p.box.b + 20 < figHeight;
  const bottomTicks = p.ticks.filter(t => x(t) <= rightEdge);

  // axes box with inward ticks on all four sides
  const bottomAxis = d3.axisBottom(x).tickValues(bottomTicks).tickSize(-5).tickSizeOuter(0).tickPadding(9);
  if (!labelBottom) bottomAxis.tickFormat("");
  body.append("g").attr("transform", `translate(0,${p.box.b})`).call(bottomAxis).call(styleAxis);
  body.append("g").attr("transform", `translate(0,${p.box.t})`)
    .call(d3.axisTop(x).tickValues(bottomTicks).tickSize(-5).tickSizeOuter(0).tickFormat(""))
    .call(styleAxis);
  body.append("g").attr("transform", `translate(${p.box.l},0)`)
    .call(d3.axisLeft(y).tickValues(p.ticks).tickSize(-5).tickSizeOuter(0).tickPadding(5))
    .call(styleAxis);
  body.append("g").attr("transform", `translate(${p.box.r},0)`)
    .call(d3.axisRight(y).tickValues(p.ticks).tickSize(-5).tickSizeOuter(0).tickFormat(""))
    .call(styleAxis);
  if (!labelBottom) body.selectAll(".tick text").filter(function () { return this.textContent === ""; }).remove();

  // observations
  body.append("g").selectAll("circle").data(p.points).join("circle")
    .attr("cx", d => x(d[0])).attr("cy", d => y(d[1])).attr("r", 4)
    .attr("fill", "none").attr("stroke", "#ff0000").attr("stroke-width", 1.2);

  // 1:1 line
  const line = d3.line().x(d => x(d[0])).y(d => y(d[1]));
  body.append("path").attr("d", line([[0, 0], [p.max, p.max]]))
    .attr("fill", "none").attr("stroke", "#5555ff").attr("stroke-width", 1.1);

  // 20% loss line
  if (p.lossLine) {
    body.append("path").attr("d", line(p.lossLine))
      .attr("fill", "none").attr("stroke", "#000").attr("stroke-width", 1);
  }

  // positive bias outline and its caption
  if (p.outline) {
    body.append("path").attr("d", line(p.outline.concat([p.outline[0]])))
      .attr("fill", "none").attr("stroke", "#0000ff").attr("stroke-width", 3.4)
      .attr("stroke-linejoin", "miter");
    const tx = p.key === "feb" ? x(0.64) : x(1.87);
    g.append("text").attr("x", tx).attr("y", y(p.key === "feb" ? 35.45 : 53.2))
      .attr("font-size", 26).attr("fill", "#000").text("Positive");
    g.append("text").attr("x", tx).attr("y", y(p.key === "feb" ? 32.27 : 48.4))
      .attr("font-size", 26).attr("fill", "#000").text("bias cases");
  }

  // title and axis labels
  g.append("text").attr("x", (p.box.l + p.box.r) / 2).attr("y", p.titleY)
    .attr("text-anchor", "middle").attr("font-size", 14.2).attr("fill", textColor)
    .text(p.title);
  if (labelBottom) {
    g.append("text").attr("x", (p.box.l + p.box.r) / 2).attr("y", p.box.b + 35.5)
      .attr("text-anchor", "middle").attr("font-size", 13.5).attr("fill", textColor)
      .text("TEOM");
  }
  g.append("text")
    .attr("transform", `translate(${p.box.l - 32},${(p.box.t + p.box.b) / 2}) rotate(-90)`)
    .attr("text-anchor", "middle").attr("font-size", 13.5).attr("fill", textColor)
    .text("CMAQ");
});

// panel letters
const letters = [
  { t: "A", x: 520.5, y: 383 },
  { t: "B", x: 1114.5, y: 367 },
  { t: "C", x: 529.5, y: 831 }
];
svg.selectAll("text.letter").data(letters).join("text").attr("class", "letter")
  .attr("x", d => d.x).attr("y", d => d.y)
  .style("font-family", '"Liberation Serif", "Times New Roman", serif')
  .attr("font-size", 30).attr("fill", "#000").text(d => d.t);

// callout text for the loss line
const fx = scales.feb.x, fy = scales.feb.y;
const calloutLines = ["New 1:1 line with", "20% loss assumed in", "TEOM"];
svg.append("g").selectAll("text").data(calloutLines).join("text")
  .attr("x", fx(39.1)).attr("y", (d, i) => 271 + i * 31)
  .attr("text-anchor", "end").attr("font-size", 26).attr("fill", "#000").text(d => d);

// callout arrows
function arrow(from, to) {
  const dx = to[0] - from[0], dy = to[1] - from[1];
  const len = Math.hypot(dx, dy), ux = dx / len, uy = dy / len;
  const hl = 11, hw = 4;
  const bx = to[0] - ux * hl, by = to[1] - uy * hl;
  svg.append("line").attr("x1", from[0]).attr("y1", from[1]).attr("x2", bx).attr("y2", by)
    .attr("stroke", "#000").attr("stroke-width", 1.5);
  svg.append("path")
    .attr("d", `M${to[0]},${to[1]}L${bx - uy * hw},${by + ux * hw}L${bx + uy * hw},${by - ux * hw}Z`)
    .attr("fill", "#000");
}
const origin = [fx(calloutOrigin[0]), fy(calloutOrigin[1])];
arrow(origin, [fx(febArrowTip[0]), fy(febArrowTip[1])]);
arrow(origin, [scales.dec.x(decArrowTip[0]), scales.dec.y(decArrowTip[1])]);
</script>
</body>
</html>
